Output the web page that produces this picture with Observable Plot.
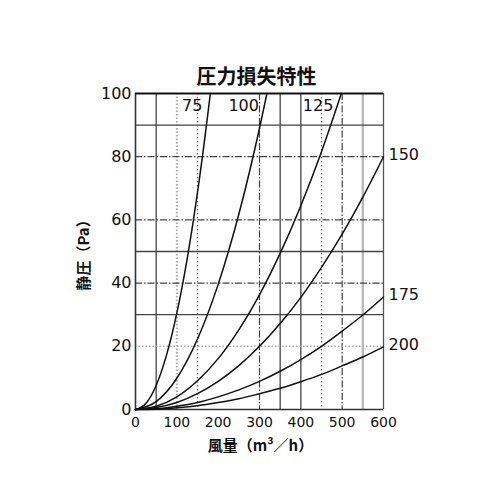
<!DOCTYPE html>
<html>
<head>
<meta charset="utf-8">
<script src="https://cdn.jsdelivr.net/npm/d3@7"></script>
<script src="https://cdn.jsdelivr.net/npm/@observablehq/plot@0.6"></script>
<style>
  html, body { margin: 0; padding: 0; background: #fff; }
  #chart { width: 500px; height: 500px; }
</style>
</head>
<body>
<div id="chart"></div>
<script>
// ---- data ----
const titleText = "圧力損失特性";
const xLabel = "風量（m³／h）";
const yLabel = "静圧（Pa）";
const xTicks = [0, 100, 200, 300, 400, 500, 600];
const yTicks = [0, 20, 40, 60, 80, 100];

// grid line positions (data units)
const vSolid = [50, 350, 400];
const vDashDot = [300, 500];
const vDotted = [150, 450];
const vLightDotted = [100];
const vLight = [550];
const hSolid = [30, 50, 90];
const hDashDot = [40, 60, 80];
const hLightDotted = [20];

// curves: duct size -> flow (m3/h) and static pressure (Pa)
const sizes = [75, 100, 125, 150, 175, 200];
const q75  = [0, 25, 50, 75, 100, 125, 150, 175, 181];
const p75  = [0, 1.9, 7.6, 17.2, 30.5, 47.7, 68.7, 93.5, 100];
const q100 = [0, 50, 100, 150, 200, 250, 300, 318];
const p100 = [0, 2.5, 9.9, 22.3, 39.6, 61.8, 89.0, 100];
const q125 = [0, 50, 100, 150, 200, 250, 300, 350, 400, 450, 498];
const p125 = [0, 1.0, 4.0, 9.1, 16.1, 25.2, 36.3, 49.4, 64.5, 81.6, 100];
const q150 = [0, 50, 100, 150, 200, 250, 300, 350, 400, 450, 500, 550, 600];
const p150 = [0, 0.6, 2.2, 5.0, 8.9, 13.9, 20.0, 27.2, 35.5, 45.0, 55.5, 67.2, 80.0];
const q175 = [0, 50, 100, 150, 200, 250, 300, 350, 400, 450, 500, 550, 600];
const p175 = [0, 0.2, 1.0, 2.2, 4.0, 6.2, 8.9, 12.1, 15.8, 20.0, 24.8, 29.9, 35.6];
const q200 = [0, 50, 100, 150, 200, 250, 300, 350, 400, 450, 500, 550, 600];
const p200 = [0, 0.1, 0.55, 1.2, 2.2, 3.4, 5.0, 6.7, 8.8, 11.1, 13.8, 16.6, 19.8];

const flows = [q75, q100, q125, q150, q175, q200];
const pressures = [p75, p100, p125, p150, p175, p200];

const rows = sizes.flatMap((s, i) => flows[i].map((q, j) => ({size: s, q, p: pressures[i][j]})));
const ends = sizes.map((s, i) => ({size: String(s), q: flows[i][flows[i].length - 1], p: pressures[i][pressures[i].length - 1]}));
const topEnds = ends.filter(d => d.p >= 100);
const rightEnds = ends.filter(d => d.p < 100);

const numFont = "DejaVu Sans, Liberation Sans, sans-serif";
const cjkFont = "Noto Sans CJK JP, sans-serif";

const chart = Plot.plot({
  width: 500,
  height: 500,
  marginLeft: 135,
  marginRight: 117,
  marginTop: 93,
  marginBottom: 91,
  style: {background: "#fff", color: "#111", fontFamily: numFont},
  x: {domain: [0, 600]},
  y: {domain: [0, 100]},
  marks: [
    // grid
    Plot.ruleX(vLight, {stroke: "#bbb", strokeWidth: 2.5}),
    Plot.ruleX(vLightDotted, {stroke: "#aaa", strokeWidth: 2, strokeDasharray: "1.5,2"}),
    Plot.ruleX(vDotted, {stroke: "#666", strokeWidth: 1.3, strokeDasharray: "1.5,2.5"}),
    Plot.ruleX(vDashDot, {stroke: "#444", strokeWidth: 1.2, strokeDasharray: "7,2,1.5,2"}),
    Plot.ruleX(vSolid, {stroke: "#444", strokeWidth: 1.3}),
    Plot.ruleY(hLightDotted, {stroke: "#aaa", strokeWidth: 1.5, strokeDasharray: "1.5,2"}),
    Plot.ruleY(hDashDot, {stroke: "#444", strokeWidth: 1.2, strokeDasharray: "7,2,1.5,2"}),
    Plot.ruleY(hSolid, {stroke: "#444", strokeWidth: 1.3}),
    // frame
    Plot.ruleX([600], {stroke: "#555", strokeWidth: 1.3}),
    Plot.ruleX([0], {stroke: "#333", strokeWidth: 1.6}),
    Plot.ruleY([0], {stroke: "#333", strokeWidth: 1.6}),
    Plot.ruleY([100], {stroke: "#111", strokeWidth: 2.2}),
    // curves
    Plot.line(rows, {x: "q", y: "p", z: "size", stroke: "#111", strokeWidth: 1.5, curve: "monotone-x"}),
    // curve labels
    Plot.text(topEnds, {x: "q", y: "p", text: "size", textAnchor: "end", dx: -8, dy: 12, fontSize: 16, fontFamily: numFont, fill: "#111"}),
    Plot.text(rightEnds, {x: "q", y: "p", text: "size", textAnchor: "start", dx: 5, dy: -2, fontSize: 16, fontFamily: numFont, fill: "#111"}),
    // axes
    Plot.axisX(xTicks, {tickSize: 0, tickPadding: 8, fontSize: 14, fontFamily: numFont, label: null, fill: "#111"}),
    Plot.axisY(yTicks, {tickSize: 0, tickPadding: 4, fontSize: 16, fontFamily: numFont, label: null, fill: "#111"}),
    // titles
    Plot.text([titleText], {frameAnchor: "top", lineAnchor: "middle", dx: -3, dy: -16, fontSize: 20, fontWeight: "bold", fontFamily: cjkFont, fill: "#111"}),
    Plot.text([xLabel], {frameAnchor: "bottom", lineAnchor: "middle", dx: 1, dy: 37, fontSize: 15, fontWeight: "bold", fontFamily: cjkFont, fill: "#111"}),
    Plot.text([yLabel], {frameAnchor: "left", textAnchor: "middle", lineAnchor: "middle", dx: -51, rotate: -90, fontSize: 15, fontWeight: "bold", fontFamily: cjkFont, fill: "#111"})
  ]
});
document.getElementById("chart").appendChild(chart);
</script>
</body>
</html>
